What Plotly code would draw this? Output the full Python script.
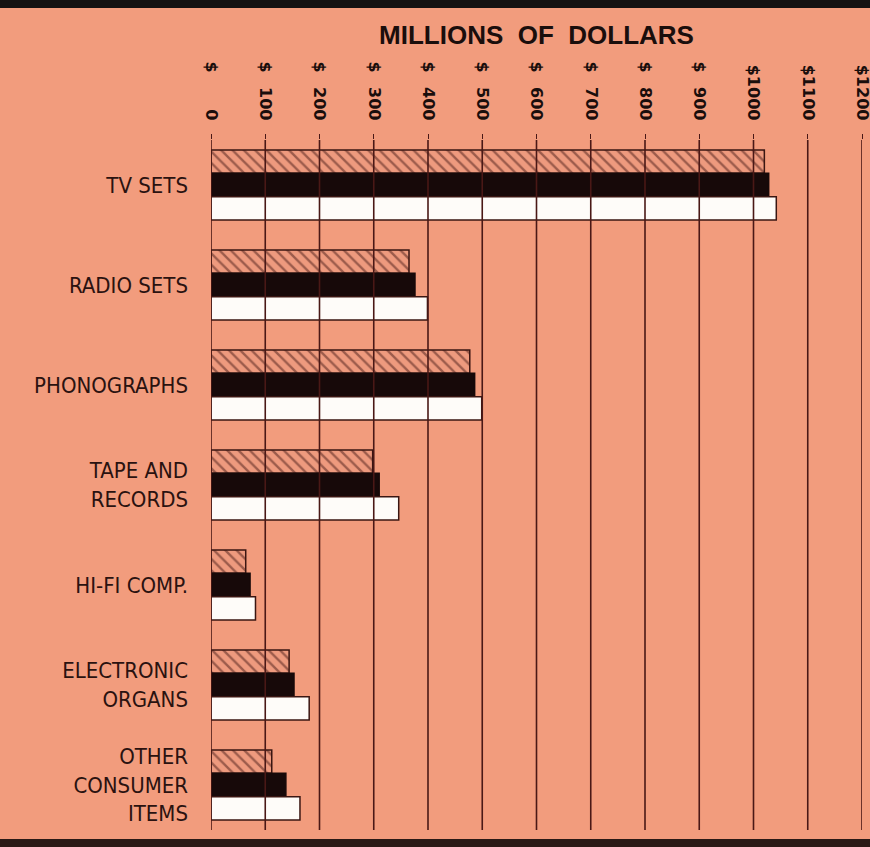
import plotly.graph_objects as go

# Consumer electronics sales, millions of dollars
categories = [
    "TV SETS",
    "RADIO SETS",
    "PHONOGRAPHS",
    "TAPE AND<br>RECORDS",
    "HI-FI COMP.",
    "ELECTRONIC<br>ORGANS",
    "OTHER<br>CONSUMER<br>ITEMS",
]
hatched_values = [1020, 365, 477, 298, 64, 144, 112]
black_values = [1028, 376, 486, 310, 72, 153, 138]
white_values = [1042, 399, 499, 346, 82, 181, 164]

tick_values = [0, 100, 200, 300, 400, 500, 600, 700, 800, 900, 1000, 1100, 1200]
# "$" set flush at the top, numbers right-aligned in a four-digit field
tick_labels = ["$" + "\u2007" * (4 - len(str(v))) + ("\u2009" if v < 1000 else "") + str(v)
               for v in tick_values]

BG = "#F29C7D"
INK = "#2a1210"
EDGE = "#3a1612"
GRID = "#4a1816"

fig = go.Figure()

fig.add_trace(go.Bar(
    y=categories, x=hatched_values, orientation="h", name="hatched",
    marker=dict(
        color=BG,
        line=dict(color=EDGE, width=1.5),
        pattern=dict(shape="\\", fgcolor="#4a1c18", bgcolor="#EE9A7E",
                     size=8, solidity=0.3),
    ),
))
fig.add_trace(go.Bar(
    y=categories, x=black_values, orientation="h", name="black",
    marker=dict(color="#170909", line=dict(color="#170909", width=1.5)),
))
fig.add_trace(go.Bar(
    y=categories, x=white_values, orientation="h", name="white",
    marker=dict(color="#FEFCF9", line=dict(color=EDGE, width=1.5)),
))

# vertical rules at every hundred, drawn over the bars
for v in tick_values:
    fig.add_shape(type="line", xref="x", yref="paper", x0=v, x1=v, y0=0, y1=1,
                  line=dict(color=GRID, width=1.6), layer="above")

# dark frame bands at the top and bottom of the sheet
fig.add_shape(type="rect", xref="paper", yref="paper", x0=-1, x1=2,
              y0=1 + 132 / 690, y1=1 + 150 / 690,
              fillcolor="#141212", line=dict(width=0), layer="below")
fig.add_shape(type="rect", xref="paper", yref="paper", x0=-1, x1=2,
              y0=-20 / 690, y1=-9 / 690,
              fillcolor="#2a1a16", line=dict(width=0), layer="below")

fig.update_layout(
    width=870, height=847,
    margin=dict(l=211, r=8, t=140, b=17, autoexpand=False),
    paper_bgcolor=BG, plot_bgcolor=BG,
    barmode="group", bargap=0.3, bargroupgap=0.0,
    showlegend=False,
    title=dict(
        text="MILLIONS\u00a0\u00a0OF\u00a0\u00a0DOLLARS",
        x=0.5, xref="paper", xanchor="center",
        y=1 - 35 / 847, yref="container", yanchor="middle",
        font=dict(family="Liberation Sans", size=26, color="#1a0e0c", weight="bold"),
    ),
    xaxis=dict(
        side="top", range=[0, 1200], automargin=False,
        tickmode="array", tickvals=tick_values, ticktext=tick_labels,
        tickangle=90, ticks="outside", ticklen=5, tickcolor=GRID, tickwidth=1.2,
        ticklabelstandoff=8, ticklabeloverflow="allow",
        tickfont=dict(family="DejaVu Sans", size=16, color="#1a0e0c", weight="bold"),
        showgrid=False, zeroline=False, showline=False,
    ),
    yaxis=dict(
        showgrid=False, zeroline=False, showline=False, automargin=False,
        ticks="", ticklabelstandoff=22,
        tickfont=dict(family="Liberation Sans Narrow, DejaVu Sans Condensed", size=22, color=INK),
    ),
)
fig.update_yaxes(autorange=False, range=[6.45, -0.45])

fig.write_html("out.html")
